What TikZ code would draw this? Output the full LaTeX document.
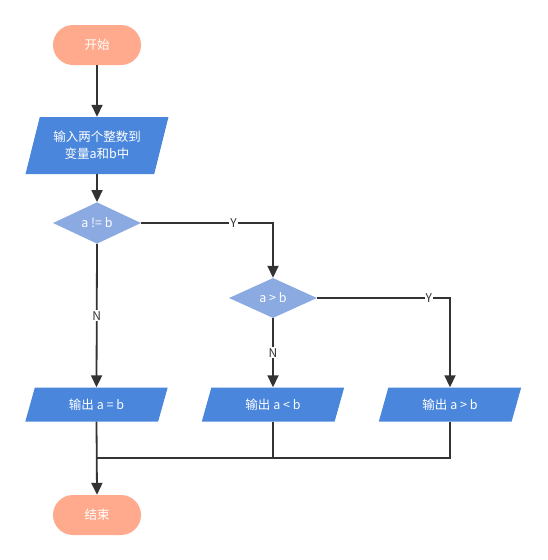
\documentclass[tikz,border=0pt]{standalone}
\usepackage{fontspec}
\newfontfamily\cjk{Noto Sans CJK SC}
\usetikzlibrary{shapes.geometric, arrows.meta}
\definecolor{termorange}{RGB}{255, 170, 140}
\definecolor{iobblue}{RGB}{74, 134, 219}
\definecolor{decblue}{RGB}{140, 170, 226}
\definecolor{linegray}{RGB}{51, 51, 51}

\tikzset{
  terminal/.style={fill=termorange, rounded corners=20pt, minimum width=88pt, minimum height=40pt, text=white, font=\cjk\fontsize{12.5}{17}\selectfont},
  iobox/.style={trapezium, trapezium stretches=true, fill=iobblue, text=white, align=center, inner sep=2pt, font=\cjk\fontsize{12.5}{17}\selectfont},
  decision/.style={diamond, fill=decblue, minimum width=88pt, minimum height=40pt, inner sep=0pt, text=white, font=\cjk\fontsize{12.5}{14}\selectfont},
  flow/.style={-{Triangle[length=12pt, width=11pt]}, line width=1.8pt, draw=linegray},
  plain/.style={line width=1.8pt, draw=linegray},
  branch/.style={fill=white, text=linegray, inner sep=1pt, font=\cjk\fontsize{12}{14}\selectfont}
}

\begin{document}
\begin{tikzpicture}[x=1pt, y=-1pt]
  \useasboundingbox (0, 0) rectangle (547, 560);

  % start and input
  \node[terminal] (start) at (97, 45) {开始};
  \node[iobox, trapezium left angle=70.7, trapezium right angle=109.3, minimum width=143pt, minimum height=57pt] (input) at (97, 145.5) {输入两个整数到\\变量a和b中};

  % decisions
  \node[decision] (ne) at (97, 223) {a != b};
  \node[decision] (gt) at (273, 298) {a > b};

  % outputs
  \node[iobox, trapezium left angle=73.6, trapezium right angle=106.4, minimum width=143pt, minimum height=34pt] (outeq) at (96.5, 404.5) {输出 a = b};
  \node[iobox, trapezium left angle=73.6, trapezium right angle=106.4, minimum width=143pt, minimum height=34pt] (outlt) at (273, 404.5) {输出 a < b};
  \node[iobox, trapezium left angle=73.6, trapezium right angle=106.4, minimum width=143pt, minimum height=34pt] (outgt) at (450, 404.5) {输出 a > b};

  % end
  \node[terminal] (stop) at (97, 515) {结束};
  \coordinate (merge) at (97, 458);

  \draw[flow] (start) -- (input);
  \draw[flow] (input) -- (ne);
  \draw[flow] (ne.east) -| node[branch, pos=0.35] {Y} (gt.north);
  \draw[flow] (ne.south) -- node[branch] {N} (outeq.north);
  \draw[flow] (gt.east) -| node[branch, pos=0.42] {Y} (outgt.north);
  \draw[flow] (gt.south) -- node[branch] {N} (outlt.north);
  \draw[flow] (outeq.south) -- (stop.north);
  \draw[plain] (outlt.south) |- (merge);
  \draw[plain] (outgt.south) |- (merge);
\end{tikzpicture}
\end{document}
